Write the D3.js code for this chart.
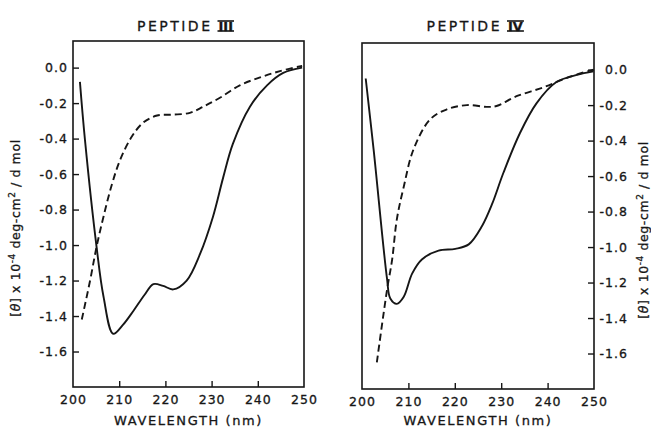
<!DOCTYPE html>
<html>
<head>
<meta charset="utf-8">
<script src="https://cdn.jsdelivr.net/npm/d3@7"></script>
<style>
  body { margin: 0; background: #fff; }
  svg { display: block; }
  text { font-family: "DejaVu Sans", sans-serif; fill: #161616; stroke: #161616; stroke-width: 0.3px; }
</style>
</head>
<body>
<div id="cd-spectra"></div>
<script>
// -------------------------------------------------------------------------
// CD spectra of peptide III and peptide IV (two panels side by side)
// solid and dashed curve in each panel
// -------------------------------------------------------------------------

// Tick values
const wlTicks = [200, 210, 220, 230, 240, 250];
const thetaTicks = [0.0, -0.2, -0.4, -0.6, -0.8, -1.0, -1.2, -1.4, -1.6];

// Peptide III, solid curve
const p3SolidWl = [201.5, 202.6, 205.1, 206.6, 208.7, 210.8, 213.1, 215.5, 217.4, 219.5,
                   221.7, 224.6, 227.5, 230.3, 232.5, 234.6, 238.3, 242.0, 245.5, 249.6];
const p3SolidTheta = [-0.08, -0.41, -1.01, -1.29, -1.50, -1.45, -1.37, -1.28, -1.22, -1.23,
                      -1.25, -1.20, -1.05, -0.84, -0.62, -0.43, -0.22, -0.10, -0.03, 0.00];

// Peptide III, dashed curve
const p3DashWl = [201.9, 203.7, 205.1, 206.6, 208.4, 210.2, 212.7, 215.2, 218.2,
                  221.6, 225.3, 228.2, 231.8, 236.1, 240.5, 244.8, 249.6];
const p3DashTheta = [-1.42, -1.20, -1.01, -0.84, -0.66, -0.52, -0.39, -0.31, -0.27,
                     -0.265, -0.255, -0.22, -0.17, -0.10, -0.055, -0.02, 0.01];

// Peptide IV, solid curve
const p4SolidWl = [200.8, 202.5, 205.4, 206.1, 207.5, 209.0, 210.8, 212.9, 216.5, 220.1,
                   223.0, 225.9, 228.0, 230.5, 234.0, 237.6, 241.9, 246.3, 249.9];
const p4SolidTheta = [-0.05, -0.45, -1.18, -1.29, -1.32, -1.28, -1.15, -1.07, -1.02, -1.01,
                      -0.985, -0.88, -0.76, -0.58, -0.36, -0.19, -0.07, -0.03, -0.01];

// Peptide IV, dashed curve
const p4DashWl = [203.2, 205.4, 206.5, 207.5, 209.0, 211.1, 214.7, 218.2, 222.6,
                  226.9, 229.0, 233.3, 239.1, 244.8, 249.9];
const p4DashTheta = [-1.65, -1.24, -1.07, -0.845, -0.66, -0.45, -0.28, -0.225, -0.20,
                     -0.21, -0.205, -0.15, -0.10, -0.04, 0.00];

// Canvas
const W = 651, H = 428;
const ink = "#161616";

const svg = d3.select("#cd-spectra")
    .append("svg")
    .attr("width", W)
    .attr("height", H);

// Panel boxes (pixel frame of each plot)
const panels = [
    { left: 73, right: 304, top: 41, bottom: 387, side: "left", name: "PEPTIDE", numeral: "III",
      solid: [p3SolidWl, p3SolidTheta], dash: [p3DashWl, p3DashTheta], labelX: 16 },
    { left: 362, right: 594, top: 43, bottom: 389, side: "right", name: "PEPTIDE", numeral: "IV",
      solid: [p4SolidWl, p4SolidTheta], dash: [p4DashWl, p4DashTheta], labelX: 644 }
];

function drawPanel(p) {
    const x = d3.scaleLinear().domain([200, 250]).range([p.left, p.right]);
    const y = d3.scaleLinear().domain([0.15, -1.8]).range([p.top, p.bottom]);
    const cx = (p.left + p.right) / 2;

    // Frame
    svg.append("rect")
        .attr("x", p.left)
        .attr("y", p.top)
        .attr("width", p.right - p.left)
        .attr("height", p.bottom - p.top)
        .attr("fill", "none")
        .attr("stroke", ink)
        .attr("stroke-width", 1.6);

    // X axis, ticks pointing inward
    const gx = svg.append("g")
        .attr("transform", `translate(0,${p.bottom})`)
        .call(d3.axisBottom(x)
            .tickValues(wlTicks)
            .tickSize(-6)
            .tickPadding(8)
            .tickFormat(d3.format("d")));
    gx.select(".domain").remove();
    gx.selectAll(".tick line")
        .filter(d => d === 200 || d === 250)
        .remove();
    gx.selectAll(".tick line").attr("stroke", ink).attr("stroke-width", 1.4);
    gx.attr("font-size", 12.5).attr("font-family", "DejaVu Sans, sans-serif");
    gx.selectAll("text").attr("fill", ink).style("letter-spacing", "1px");

    // Y axis on left or right side
    const yAxis = (p.side === "left" ? d3.axisLeft(y) : d3.axisRight(y))
        .tickValues(thetaTicks)
        .tickSize(-6)
        .tickPadding(5)
        .tickFormat(d => d.toFixed(1));
    const gy = svg.append("g")
        .attr("transform", `translate(${p.side === "left" ? p.left : p.right},0)`)
        .call(yAxis);
    gy.select(".domain").remove();
    gy.selectAll(".tick line").attr("stroke", ink).attr("stroke-width", 1.4);
    gy.attr("font-size", 12.5).attr("font-family", "DejaVu Sans, sans-serif");
    gy.selectAll("text").attr("fill", ink).style("letter-spacing", "1px");
    if (p.side === "right") {
        gy.selectAll("text").attr("text-anchor", "end").attr("x", 34);
    }

    // Curves
    const line = d3.line()
        .x(d => x(d[0]))
        .y(d => y(d[1]))
        .curve(d3.curveCatmullRom.alpha(0.5));

    svg.append("path")
        .datum(d3.zip(p.solid[0], p.solid[1]))
        .attr("d", line)
        .attr("fill", "none")
        .attr("stroke", ink)
        .attr("stroke-width", 1.9);

    svg.append("path")
        .datum(d3.zip(p.dash[0], p.dash[1]))
        .attr("d", line)
        .attr("fill", "none")
        .attr("stroke", ink)
        .attr("stroke-width", 1.9)
        .attr("stroke-dasharray", "7,4");

    // Title with barred roman numeral
    svg.append("text")
        .attr("x", cx + 24)
        .attr("y", 31)
        .attr("text-anchor", "end")
        .style("font-size", "14px")
        .style("letter-spacing", "2.5px")
        .text(p.name);
    const num = svg.append("text")
        .attr("x", cx + 30)
        .attr("y", 31)
        .style("font-size", "13px")
        .style("font-weight", "bold")
        .text(p.numeral);
    const nb = num.node().getBBox();
    [31 - 10, 31].forEach(yy => {
        svg.append("line")
            .attr("x1", nb.x - 1).attr("x2", nb.x + nb.width + 1)
            .attr("y1", yy).attr("y2", yy)
            .attr("stroke", ink)
            .attr("stroke-width", 1.6);
    });

    // X label
    svg.append("text")
        .attr("x", cx)
        .attr("y", 425)
        .attr("text-anchor", "middle")
        .style("font-size", "13px")
        .style("letter-spacing", "1.6px")
        .text("WAVELENGTH (nm)");

    // Y label, reads bottom to top
    const yl = svg.append("text")
        .attr("transform", `translate(${p.labelX},${(p.top + p.bottom) / 2 + 14}) rotate(-90)`)
        .attr("text-anchor", "middle")
        .attr("dy", "0.35em")
        .style("font-size", "12.5px")
        .style("letter-spacing", "0.6px");
    yl.append("tspan").text("[");
    yl.append("tspan").style("font-style", "italic").text("θ");
    yl.append("tspan").text("] x 10");
    yl.append("tspan").attr("dy", -5).style("font-size", "9px").text("-4");
    yl.append("tspan").attr("dy", 5).text(" deg-cm");
    yl.append("tspan").attr("dy", -5).style("font-size", "9px").text("2");
    yl.append("tspan").attr("dy", 5).text(" / d mol");
}

panels.forEach(drawPanel);
</script>
</body>
</html>
